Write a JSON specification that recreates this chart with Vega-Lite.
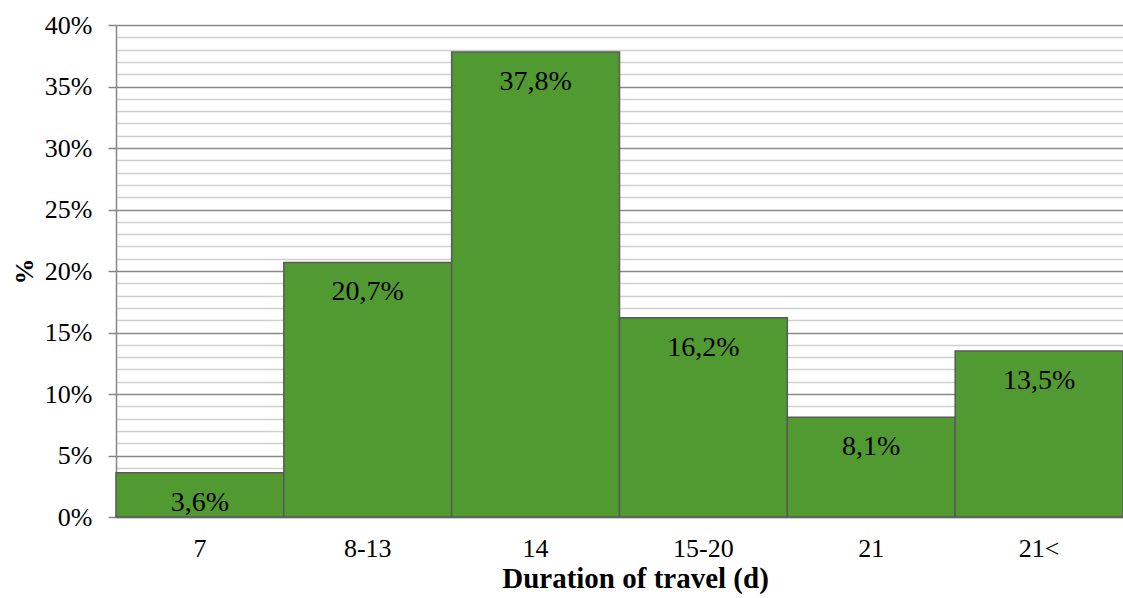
{
  "$schema": "https://vega.github.io/schema/vega-lite/v6.json",
  "width": 1007,
  "height": 492,
  "autosize": {"type": "none"},
  "padding": {"left": 116, "top": 25, "right": 0, "bottom": 81},
  "background": "white",
  "config": {
    "view": {"stroke": null},
    "font": "Liberation Serif",
    "axis": {"labelFont": "Liberation Serif", "titleFont": "Liberation Serif"},
    "text": {"font": "Liberation Serif"},
    "locale": {"number": {"decimal": ",", "thousands": ".", "grouping": [3], "currency": ["", " €"]}}
  },
  "data": {
    "values": [
      {"duration": "7", "share": 0.036},
      {"duration": "8-13", "share": 0.207},
      {"duration": "14", "share": 0.378},
      {"duration": "15-20", "share": 0.162},
      {"duration": "21", "share": 0.081},
      {"duration": "21<", "share": 0.135}
    ]
  },
  "encoding": {
    "x": {
      "field": "duration",
      "type": "nominal",
      "sort": null,
      "scale": {"paddingInner": 0, "paddingOuter": 0},
      "axis": {
        "title": "Duration of travel (d)",
        "titleFontSize": 29,
        "titleFontWeight": "bold",
        "titleColor": "black",
        "titleBaseline": "alphabetic",
        "titleY": 70,
        "titleX": 519,
        "labelAngle": 0,
        "labelFontSize": 26,
        "labelFontWeight": "normal",
        "labelColor": "black",
        "labelBaseline": "alphabetic",
        "labelPadding": 39,
        "ticks": false,
        "domainColor": "#868686",
        "domainWidth": 1.5,
        "grid": false
      }
    },
    "y": {
      "field": "share",
      "type": "quantitative",
      "scale": {"domain": [0, 0.4], "nice": false, "zero": true},
      "axis": {
        "title": "%",
        "titleFontSize": 26,
        "titleFontWeight": "bold",
        "titleColor": "black",
        "titleBaseline": "alphabetic",
        "titleX": -84,
        "titleAngle": -90,
        "values": [0, 0.01, 0.02, 0.03, 0.04, 0.05, 0.06, 0.07, 0.08, 0.09, 0.1, 0.11, 0.12, 0.13, 0.14, 0.15, 0.16, 0.17, 0.18, 0.19, 0.2, 0.21, 0.22, 0.23, 0.24, 0.25, 0.26, 0.27, 0.28, 0.29, 0.3, 0.31, 0.32, 0.33, 0.34, 0.35, 0.36, 0.37, 0.38, 0.39, 0.4],
        "format": ".0%",
        "labelExpr": "round(datum.value*100) % 5 === 0 ? datum.label : ''",
        "labelFontSize": 26,
        "labelFontWeight": "normal",
        "labelColor": "black",
        "labelPadding": 16,
        "tickSize": 8,
        "tickColor": "#868686",
        "tickWidth": 1.5,
        "tickOpacity": {"condition": {"test": "round(datum.value*100) % 5 === 0", "value": 1}, "value": 0},
        "domainColor": "#868686",
        "domainWidth": 1.5,
        "grid": true,
        "gridColor": {"condition": {"test": "round(datum.value*100) % 5 === 0", "value": "#8a8a8a"}, "value": "#d0d0d0"},
        "gridWidth": 1.5,
        "gridOpacity": 1
      }
    }
  },
  "layer": [
    {"mark": {"type": "bar", "fill": "#519a32", "stroke": "#595959", "strokeWidth": 1.5}},
    {
      "mark": {"type": "text", "baseline": "alphabetic", "dy": 38, "fontSize": 28, "color": "black", "font": "Liberation Serif"},
      "encoding": {"text": {"field": "share", "type": "quantitative", "format": ".1%"}}
    }
  ]
}
